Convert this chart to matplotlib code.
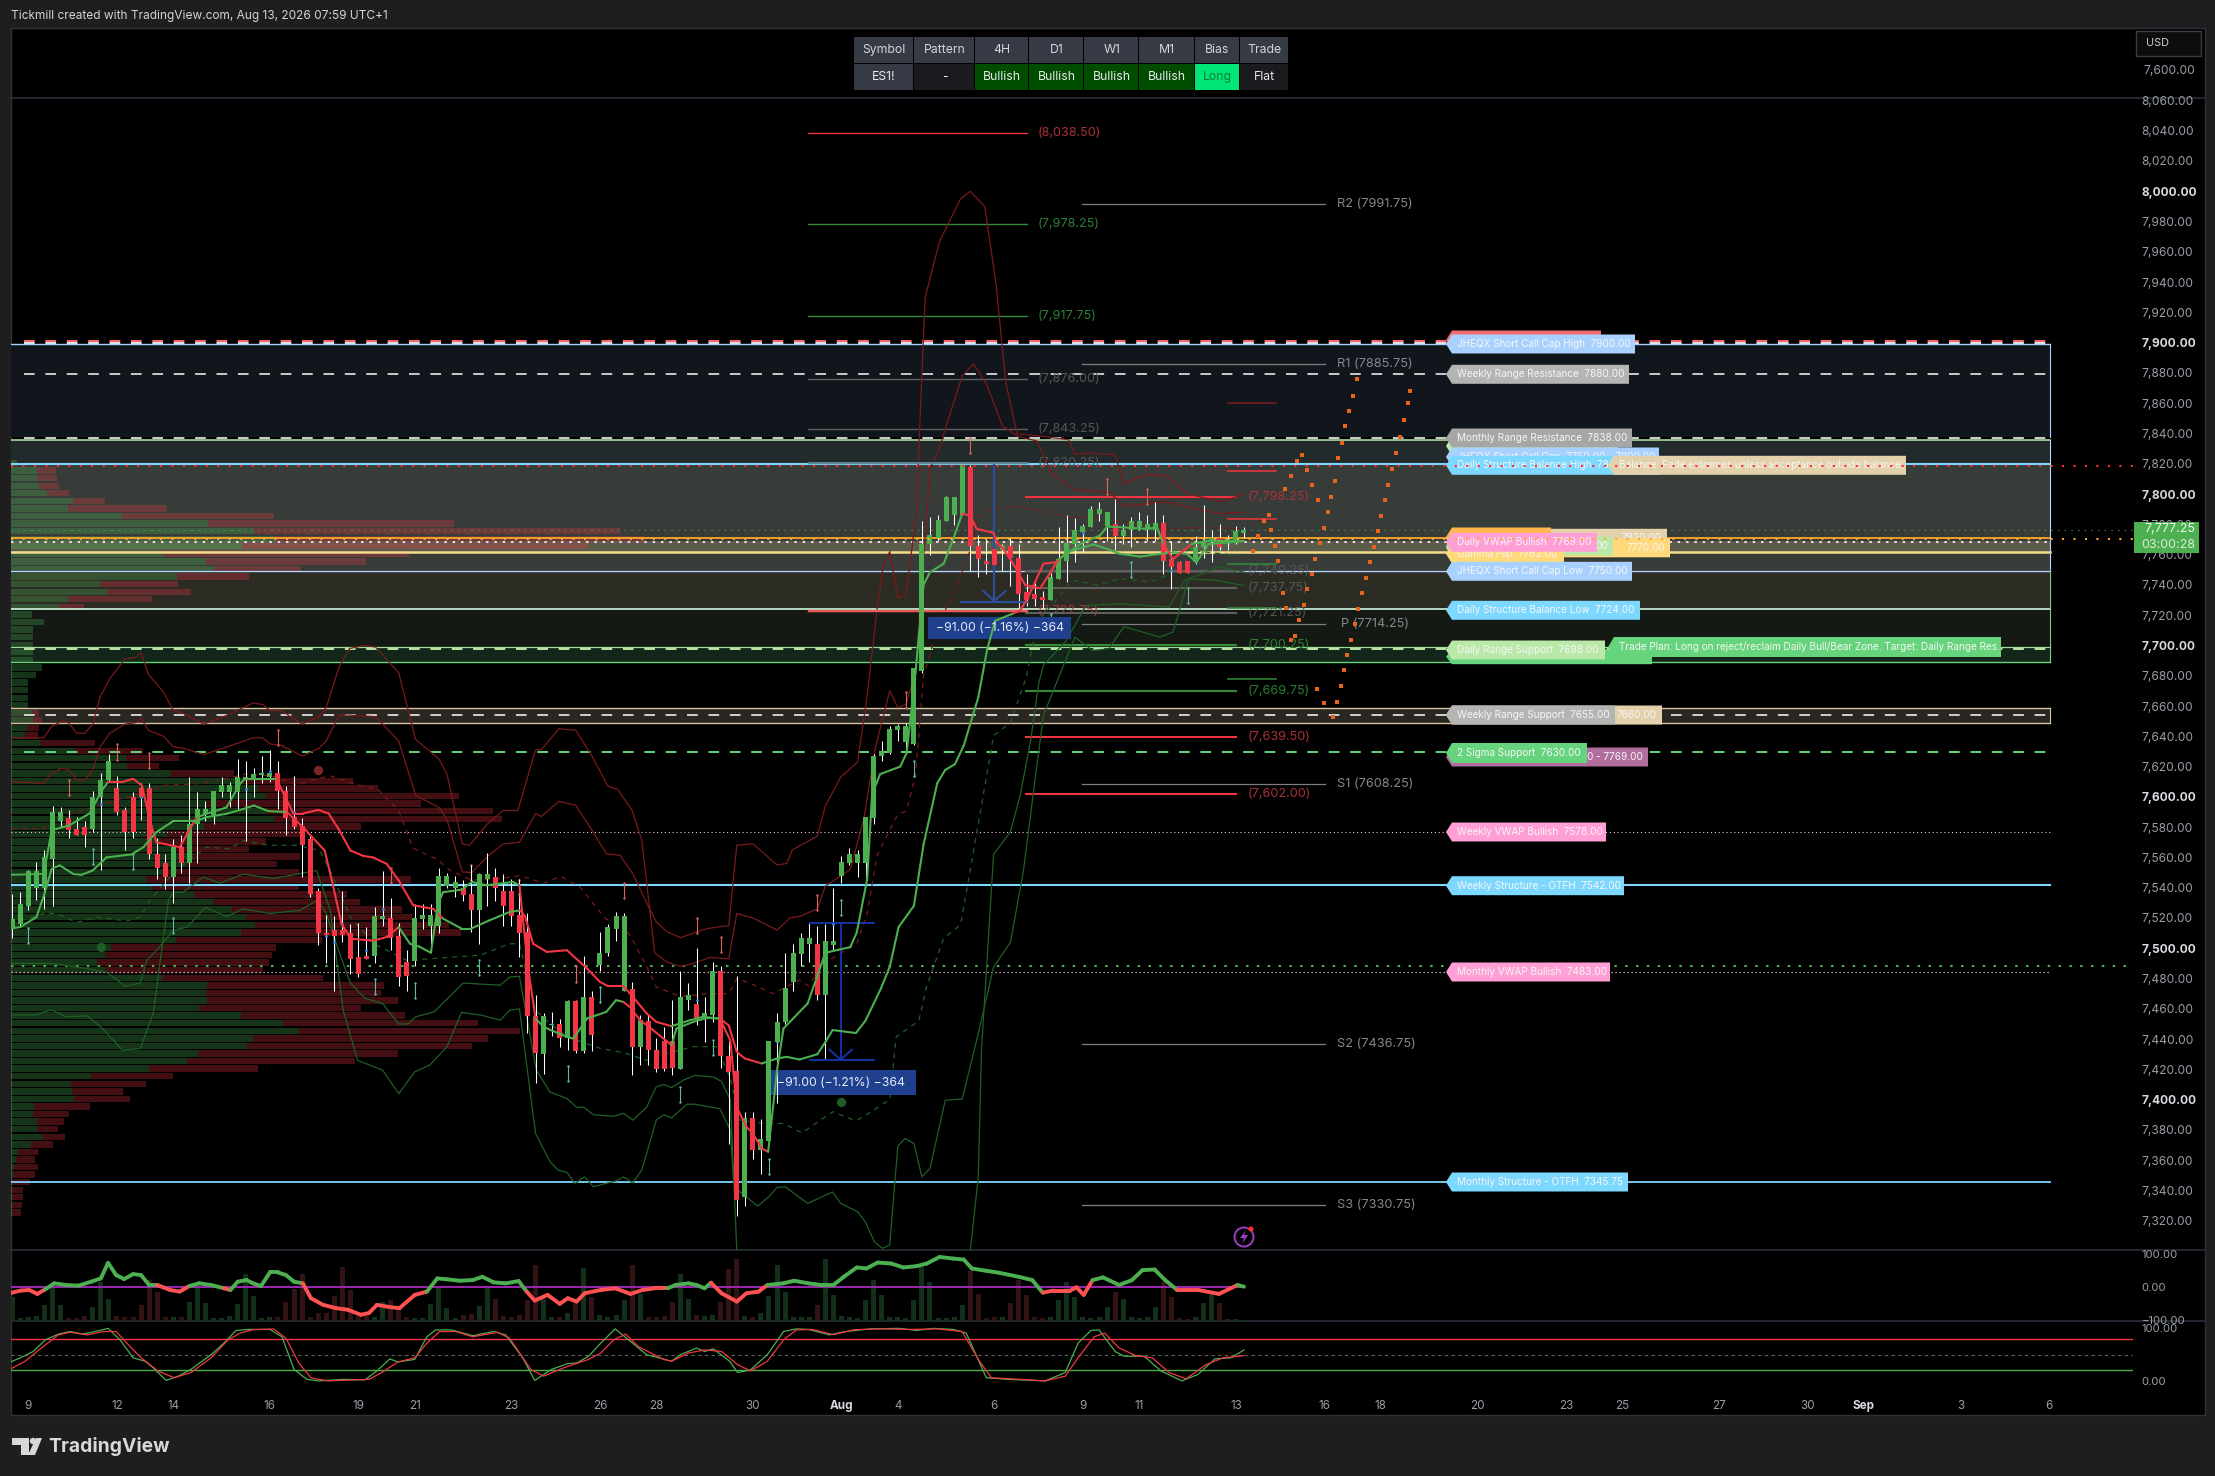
#!/usr/bin/env python3
# ES1! 4H chart, TradingView dark layout with levels, bands and oscillators
import matplotlib
matplotlib.use("Agg")
import matplotlib.pyplot as plt
import numpy as np
from matplotlib.collections import LineCollection
from matplotlib.patches import Circle, Polygon, Rectangle

plt.rcParams["font.family"] = ["Inter", "DejaVu Sans"]

W, H = 2215, 1476

# candles, one per 4H bar
OPENS = [7513,7516,7528,7540,7540,7559,7584,7586,7579,7580,7579,7600,7611,7606,7591,7600,7606,7606,7562,7556,
         7547,7567,7556,7582,7589,7588,7603,7603,7603,7611,7611,7614.5,7613,7616,7604,7587,7581,7572,7538,7510,
         7512,7512,7510,7494,7495,7495,7519,7520,7508,7491,7491.5,7519,7515,7515,7541,7540,7540,7536,7525,7546,
         7547,7538,7538,7522,7511,7455,7430,7449,7450,7441,7465,7432,7468,7489,7497,7513,7472,7473,7435,7452,
         7433,7439,7439,7420,7466,7463,7455,7456,7485,7429,7419,7336,7388,7367,7373,7438,7451,7478,7496,7503,
         7503,7469,7502,7548,7556,7556,7556,7586,7627,7629,7644,7636,7635,7683,7767,7771,7782,7786,7786,7818,
         7766,7755.5,7764,7763,7766,7758,7735,7734,7732,7730,7744,7756,7767,7775,7778.5,7787,7779,7780,7772,7776,
         7778.5,7776.5,7776.5,7781,7757,7755,7755.5,7755,7765,7769,7771,7768.5,7768,7774.5]
HIGHS = [7536,7537,7552,7557,7565,7594,7593,7591,7587,7584,7604,7616,7628,7614,7593,7603,7609,7609,7573,7562,
         7572,7575,7613,7603,7597,7604,7613,7610,7625,7624,7619,7627,7631,7624,7607,7614,7586,7574,7540,7522,
         7521,7538,7516,7517,7514,7527,7551,7533,7517,7499,7529,7529,7529,7553,7550,7548,7545,7555,7550,7563,
         7553,7549,7546,7546,7523,7469,7457,7458,7453,7466,7466,7495,7472,7511,7516,7524,7523,7478,7456,7456,
         7441,7448,7466,7485,7477,7500,7468,7491,7488,7439,7482,7392,7392,7387,7439,7457,7497,7503,7510,7517,
         7515,7516,7540,7561,7566,7565,7587,7628,7637,7647,7648,7649,7685,7782,7785,7786,7799,7798,7819,7819,
         7773,7770,7769,7767,7771,7767,7747,7741,7736,7748,7778,7786,7784.5,7780.5,7792,7795,7788,7797,7780.5,7785,
         7788,7786.5,7795,7786,7769,7756,7756,7772.5,7793,7776.5,7780,7773,7779,7778.5]
LOWS = [7507,7514,7525,7532,7526,7528,7580,7573,7575,7567,7577,7552,7610,7588,7565,7573,7585,7559,7546,7539,
        7530,7550,7543,7556,7584,7582,7600,7593,7592,7571,7600,7609,7610,7592,7575,7579,7547,7534,7502,7490,
        7472,7504,7483,7481,7493,7490,7515,7499,7475,7472,7488,7513,7503,7510,7540,7534,7531,7511,7503,7528,
        7531,7515,7515,7494,7444,7411,7417,7442,7435,7433,7431,7431,7432,7485,7495,7505,7472,7416,7423,7423,
        7418,7419,7416,7420,7459,7449,7438,7451,7421,7371,7323,7330,7361,7351,7373,7398,7450,7472,7488,7491,
        7466,7427,7498,7543,7555,7547,7541,7582,7624,7628,7637,7630,7634,7682,7760,7769,7782,7779.5,7786,7749,
        7745,7747,7733,7749,7739,7725,7726,7726,7724.5,7730,7744,7742,7755,7762,7778.5,7782.5,7769,7763,7767,7765,
        7776,7769,7769,7747,7737,7748,7748,7753.5,7758,7755,7763,7763,7767,7771]
CLOSES = [7519,7529,7551,7551,7560,7590,7590,7578,7575,7575,7600,7611,7624,7590,7577,7577,7600,7562,7553,7547,
          7567,7556,7582,7592,7592,7604,7608,7608,7613,7613,7615,7615.5,7616,7604,7586,7580,7568,7536,7510,7508.5,
          7508,7509,7493,7483,7493,7521,7521,7507,7481,7482,7520,7522,7522,7548,7548,7544,7535,7525,7549,7549,
          7540,7528,7521,7510,7455,7431,7455,7450,7441,7465,7432,7468,7443,7497,7514,7521,7521,7435,7452.5,7433,
          7420,7420,7421,7468,7469,7454,7457,7485,7429,7418,7334,7388,7367,7374,7439,7451,7474,7497,7507,7507,
          7469,7505,7505,7557,7562,7562,7587,7627,7630,7645,7647,7647,7685,7767,7773,7783,7798,7798,7819,7765.5,
          7757,7754,7753,7766,7758,7734,7730,7731,7730,7745,7757,7768,7776,7779,7790,7790,7788,7772,7776,7782.5,
          7782,7780,7781,7756,7751.5,7748,7748,7765,7769,7771,7765,7770,7775.5,7776]

# volume pane heights
VOLUME = [73,8,11,15,48,103,48,8,8,15,41,118,68,15,11,11,48,123,88,11,11,11,58,103,53,8,8,15,51,141,75,8,11,11,58,98,
          143,13,23,25,75,163,95,15,15,11,58,63,45,11,8,8,51,101,38,8,18,21,45,101,68,15,11,18,63,171,68,11,11,23,63,159,
          73,18,11,18,63,171,83,11,11,15,58,141,68,18,15,18,58,158,188,15,11,23,75,171,88,11,11,11,48,188,78,15,11,8,65,125,
          78,11,11,8,65,165,118,8,8,13,48,151,81,8,11,11,55,125,78,11,8,11,65,118,73,11,8,11,41,88,68,11,8,11,41,118,
          73,8,5,11,55,85,55,5,5,3]

# volume profile, widths by 5 point row from the top
PROFILE_TOP = 7820.5
PROFILE_GREEN = [6,26,26,28,36,62,57,111,197,243,264,231,152,195,203,166,89,96,57,48,21,33,22,22,22,22,22,31,25,17,17,17,17,
                 21,22,16,14,29,64,115,116,160,232,247,255,196,256,263,193,156,149,164,182,176,156,135,141,183,202,221,
                 235,244,230,165,100,94,86,94,152,196,195,196,188,230,272,288,242,236,187,176,138,80,60,61,63,23,22,26,26,
                 31,20,7,5,3,2,1,1,1,1,1]
PROFILE_TOTAL = [6,45,46,48,58,94,156,263,443,609,634,578,398,355,290,238,167,180,141,73,21,33,22,22,22,22,22,31,25,17,17,17,17,
                 28,31,28,27,84,132,168,148,223,342,367,448,410,482,491,350,289,255,238,289,266,288,400,288,336,349,391,
                 401,438,450,311,265,261,258,252,312,373,370,387,350,394,467,509,477,461,387,344,247,162,135,112,119,79,58,
                 53,47,54,42,27,24,27,24,19,12,12,11,10]

# thick trend lines
TREND_A_X = [-0.3,3.9,4.9,7,9.6,11.1,11.9,13.8,15,16.1,17.1,17.9,20.8,22.9,24.1,26.6,28.3,28.9,32.8,34.9,36.1,38,39.3,40.5,42,43.6,44.8,46.5,48,49.8,52.3,53.5,55.8,57,59.3,61.8,63.1,63.7,64.7,66.4,68.9,71.4,73,74,75.9,77.1,78.8,80,81.9,84.2,85.8,87.9,89,90,91,93.1,95,96.2,97.8,100,101,101.9,104.8,106,107.9,109,110.1,112,113.2,114.9,115.9,117.1,118.2,120,121.1,122.1,124.4,125.2,126.2,128.1,129.7,131,134.3,136,137.6,140.1,142.6,144.2,145.9,147.1,148.6,150.9,153]
TREND_A_Y = [7548.5,7549,7578,7581,7589,7604,7610,7610,7612,7607.5,7584.4,7570,7566.8,7586.6,7588.8,7593,7608.6,7612,7612,7589,7589,7591.4,7589,7579,7564.6,7561,7560,7555.8,7544.8,7528.4,7526,7519.6,7513,7513,7518.5,7524,7525,7521,7503,7497.6,7498.7,7486.6,7477.8,7475,7475,7467.9,7457,7451.4,7448.5,7452.5,7454.7,7453.6,7449,7431.6,7427.2,7423.9,7427.2,7428.3,7426.5,7430,7438,7446,7444,7452.3,7473.4,7487.7,7514,7528,7568.5,7609,7617.8,7621.6,7634,7665.8,7697.4,7716.3,7721.3,7723,7732,7754,7755,7761.6,7766.7,7763.8,7760.5,7758.7,7760.5,7761.6,7760.5,7755,7767,7768,7769]
TREND_A_RED = [(11.9,22.9),(33,53.5),(63.1,81.9),(87.9,94),(124.4,129.7)]
TREND_B_X = [-0.3,1,3,4,4.9,5.9,7.6,8.6,10,11.7,14.8,16.3,17.9,20,22.9,24.1,26.6,28.7,30,31.8,34.1,36.1,38.8,39.7,40.9,42.1,44.8,46.5,48,49.4,50.6,52,52.9,53.5,55.8,57.1,58.9,62.2,63,64,65,66,68.9,69.7,71.4,73.8,75,75.9,76.7,78,79.6,81.9,82.5,84.6,86.3,87.9,89.2,90,91.2,92,93.1,93.9,95,95.8,98.8,101,104.1,104.9,106.2,106.8,107.8,110.3,111.1,112.2,113.2,114,115.7,116.9,118,119,119.8,121.9,122.3,123.1,124.8,125.8,127.7,130,133,135.1,136,138,140.9,142.2,143,144.2,146.5,148.4,150.9,153]
TREND_B_Y = [7513,7514,7520.6,7536,7552.5,7554.7,7549,7548.5,7551.4,7560,7562,7566.8,7576.7,7584,7584,7586.6,7588.8,7592,7594.3,7590.6,7590,7580,7564.6,7544.8,7516,7506.3,7505,7507.4,7514,7503,7501,7497,7529.5,7537,7538.7,7543.8,7541.6,7543.8,7541.6,7490,7453.6,7448,7441.5,7440.4,7453.6,7458,7465.7,7464.6,7461.3,7452.5,7445.9,7436,7447,7451.4,7454,7453.6,7439,7395,7382,7377.7,7367.8,7365.6,7419.5,7447,7463.5,7497,7500.8,7510.4,7545.8,7601.4,7615,7620,7629,7682,7740,7748.4,7754,7770.6,7787,7785.8,7777,7774.4,7768,7764,7750,7740,7737.8,7757,7768,7772.6,7778.5,7778,7777,7778,7767,7757,7767,7769,7769,7769]
TREND_B_RED = [(35,48.5),(63,65),(75.9,81.9),(87.9,93.9),(118,130),(143,146)]

# thin upper and lower bands
UPPER_A_X = [-0.2,3.9,4.8,6.1,7,8,9,10,10.9,12.1,14,15.3,16,16.9,18.8,20,21.3,23.8,26.7,29.9,31.1,32,33.4,36,38.1,39,40.6,41.9,43.8,45.1,48,50.1,53,54,55.9,56.8,59,61,62.8,65,65.7,67.9,70,72,74,75.2,77,78.2,79.8,81.3,83,84.6,86.7,89,90,92,95,96.6,97.8,100,101,104.1,105.8,107.2,109,110,111,112.2,112.8,114,115.1,116,118,119.4,121,123,125,127.3,129.2,132,136.4,138,140.9,143.4,145.6,150,153]
UPPER_A_Y = [7639,7639,7646,7650,7649,7642,7642,7648,7666,7678,7691,7692,7695,7681,7669,7657,7655,7648,7654,7662,7661,7657,7657,7648,7653,7659,7686,7698,7700,7699,7682,7638,7625,7615,7569,7568,7582,7591,7591,7631,7631,7645,7644,7627,7607,7605,7591,7571.3,7497,7491,7488,7490,7494,7493,7523,7520,7512,7520,7521,7526,7541,7552,7586,7632,7670,7659,7661,7682,7728,7817,7829,7845,7878,7886,7873,7845,7838,7835,7813,7803,7801,7792,7793.5,7795,7792,7787,7788]
UPPER_B_X = [-0.2,3.9,4.8,6.1,7,8,9,10,10.9,12.1,14,15.3,16,16.9,18.8,20,21.3,23.8,26.7,29.9,31.1,32,33.4,36,38.1,39,40.6,41.9,45.1,48,50.1,53,54,55.9,57.1,59.1,61,63,65,65.7,67.9,70,72,73.8,75.5,77.1,78.8,80,81.3,83,84.6,86.3,89,90,92,95,96.2,96.9,100,101,102.9,105,106.2,107.4,108.2,109,110,111,112.4,112.6,113.4,115.2,117.8,119,120.8,122.2,123.4,124.8,128,131.2,132,134.2,137,138,140.9,143.4,146.1,150.2,153]
UPPER_B_Y = [7610,7609,7615,7619,7618,7611,7611,7618,7633,7642,7648,7649,7652,7644,7640,7633,7632,7628,7633,7639,7639,7635,7634,7627,7632,7637,7654,7654,7653,7637,7601,7593,7585,7550.4,7550,7561,7569,7570,7589,7587,7597,7594.4,7578,7562.5,7561.4,7549,7530,7517.4,7511,7507,7510,7513,7515,7568,7569,7555,7556,7565,7574,7594,7613,7623,7667,7723,7753,7762,7731.5,7733,7791,7829,7930,7967,7995,8000,7990,7939,7874,7840,7838,7836,7826.5,7827,7826,7807,7813,7812,7800,7795,7800]
UPPER_MID_X = [0,3.9,5.2,6.7,10.9,15.6,18.8,23.2,25.7,28.9,32.1,35.3,39.4,42.9,45.4,48,49.8,52.7,54.4,57,60.6,63,66,68.2,70.5,72.4,73.8,75.5,77.1,78.8,80,83,86.3,89,90,91.6,94.5,97.8,98.9,100.8,104.9,106.2,107.4,109.9,111.1,112.2,113.2,115.3,116.9,119,120.2,121.5,124,127.7,130.9,135.3,143.1,148.1,153]
UPPER_MID_Y = [7579,7579,7584.5,7588,7594.4,7602,7607.6,7608.7,7611,7615,7614,7608,7614,7608,7605,7591,7566,7559,7551.5,7545,7546,7548,7543,7547.5,7540.5,7528,7519,7518.5,7505,7488,7474.5,7468,7470,7470,7480,7477,7470,7479,7475,7490,7503,7523,7561,7587.5,7591,7614,7680,7717.6,7733,7763,7785,7789.5,7792,7789.5,7785,7784,7777,7778,7777]
LOWER_A_X = [-0.2,4.8,9.3,11.8,14,15.9,16.7,18,20,21.7,24,26.6,28.7,32,35.7,38,39,40.7,42,43.8,46,48,49.2,50.1,52.4,56,60.6,61.8,63,65.1,66.8,68.9,70.1,71,72.2,74.7,75.9,77.1,78.8,80,80.9,81.9,83.4,84.8,87.1,88.1,89.2,89.6,90,119,120,120.4,121.9,124,125.2,126.5,127.5,128.1,130.9,133.4,137.8,143.7,145.6,150,153]
LOWER_A_Y = [7490,7490,7486.6,7484,7475,7477,7492,7499,7512,7514,7527,7521,7526,7523,7525,7532,7523,7496,7477,7467,7463.5,7450,7450,7454.7,7458,7477,7475.6,7481,7481.5,7419.5,7405,7400.8,7395,7395,7390,7389,7391,7386.5,7395,7408.5,7410,7408,7413,7416,7415,7412,7400,7351.3,7300,7300,7349,7433,7562,7577,7601,7637,7675,7687,7703,7726.4,7727.5,7725.3,7743,7752,7748.4]
LOWER_B_X = [-0.2,3,4.8,6.7,9.3,11.2,13.7,15.9,17.5,19.4,20,21.2,23.7,25.8,28.7,32.4,37.8,39.5,41.1,42.9,46,48,50,51.9,54,55.8,58.1,60.6,61.8,63,65,66.8,67.8,68.9,69.9,71.1,72.2,75.1,75.9,77.1,78.2,80,80.9,81.9,83.8,84.8,87.9,89.2,89.6,90.4,92.6,94,95,96,98.8,101.9,102.9,105,106,107.1,108.1,109,110,110.9,112,113,114,115.9,118,120,121.9,124,125.6,127.5,128.1,132,134.2,136.2,138.1,142.5,144.2,146.1,149.5,153]
LOWER_B_Y = [7456,7456,7459.5,7454.7,7455.4,7447,7432.7,7433.8,7457,7531.7,7537,7537,7547,7543,7549,7546,7551.4,7525,7459,7426,7419.5,7404,7418.4,7423,7435,7457.6,7456,7452.5,7459,7460,7377.7,7359,7353.5,7352,7344.7,7349,7342.5,7346.5,7349,7345,7353.5,7386.5,7390,7388,7397,7397,7394,7380,7345,7339,7329.7,7336,7342,7342.5,7331.5,7339,7331.5,7326,7319,7306,7301.8,7304,7369.3,7374.4,7371,7349,7354.6,7399.7,7400.4,7443.7,7487.7,7504,7551,7630,7654,7705.5,7696.7,7697.8,7712.5,7705.5,7708.8,7744,7743,7739.6]
LOWER_MID_X = [1,3.9,5.5,8,10.5,14.2,15.9,17.1,20,24.1,27,28.7,32,35.3,38.2,39.7,42,44.9,49,58.1,61.8,63,65,66.8,68.9,73,76.3,78.8,81.3,84.6,87.5,89.2,90.4,93.3,95.8,98.1,101.9,104.8,106,109,109.8,112.6,113.6,115.7,117.8,119.8,121.9,124,126,127.3,131.7,134.8,137.6,141.4,143.7,144.2,146,153]
LOWER_MID_Y = [7518,7523,7523,7517,7520.6,7518,7520.6,7531.6,7550,7566.8,7565.7,7571,7568,7568,7564.6,7549,7520.6,7503,7492,7495.4,7503,7503,7459,7450,7441.5,7434,7430.5,7426,7430.5,7435,7435,7414,7386.5,7384.3,7384.3,7378,7392,7386,7389.7,7400,7441.5,7452,7475,7506.6,7515.5,7576,7640.5,7649,7679.7,7715,7743,7740,7744,7742,7747,7758,7763,7759]

# projected path dots
DOTS_X = [164.1,164.5,165,165.4,165.8,166.3,166.8,167.2,167.7,168.2,168.7,169.1,169.6,170,170.5,170.9,171.4,171.9,172.4,172.9,173.4,173.6,
          158.9,159.3,159.8,160.4,160.8,161.4,161.8,162.4,162.9,163.4,163.8,164.3,164.7,165.2,165.6,166.1,166.6,167.1,
          154.1,154.8,155.5,156.1,158.1,158.8,159.6,160.2,160.8,161.5,162.2,156.4,156.8,157.2,157.8,158.2,162.1,163]
DOTS_Y = [7652.7,7662.6,7673,7683.5,7693.4,7703.7,7714.3,7724.2,7734.5,7744.7,7755,7765.3,7775.5,7785.8,7796,7806,7816.6,7827,7838,7849,7860,7868,
          7703.7,7706,7716.5,7727,7737,7747,7757.4,7767.5,7777.7,7788,7798.3,7808.5,7823.9,7834,7845,7855,7865,7876,
          7762.7,7772,7782,7786.5,7803.4,7812.2,7822,7826,7816,7806,7796,7776.3,7766,7755.7,7734.8,7724.6,7671.4,7662]

# small I-bar markers
TEAL_X = [2,10,15,20,45,50,58,69,73,83,87,94,103,112,129,139,146]
TEAL_LOW = [7503.7,7555.4,7552.5,7510,7470,7467,7482.6,7412.5,7464.6,7398.6,7429.8,7350.6,7522,7614,7710,7745,7728]
TEAL_HIGH = [7513.6,7565.7,7562.4,7520,7480,7477,7492.5,7422.4,7474.5,7408.5,7439.7,7360.5,7532,7624,7721,7755,7738]
RUST_X = [7,13,17,33,47,57,63,70,76,85,88,100,111,119,136,141]
RUST_LOW = [7601,7624.5,7619,7634,7543,7545,7535.6,7478,7533.5,7510.4,7497.6,7525,7659,7827,7800,7793.5]
RUST_HIGH = [7611,7634.7,7629,7644,7553,7555,7545,7488,7543.4,7520,7507.5,7535,7669,7837,7810,7803.4]
BLUE_X = [11,16,29,31,32,35,39,40,41,44,46,67,85,89,95,102,133,140,144]
BLUE_Y = [7595,7600,7605,7616,7617,7590,7508,7504,7516,7499,7526,7450,7466,7420,7438,7516,7774,7782.5,7750]

# pivots and level labels
FIB_LEVELS = [8038.50,7978.25,7917.75,7876.00,7843.25,7820.25,7722.75]
FIB_KINDS = ["r","g","g","k","k","k","r"]
INNER_LEVELS = [7798.25,7749.25,7737.75,7721.25,7700.25,7669.75,7639.50,7602.00]
INNER_KINDS = ["r","k","k","k","g","g","r","r"]
PIVOT_NAMES = ["R2","R1","P","S1","S2","S3"]
PIVOT_LEVELS = [7991.75,7885.75,7714.25,7608.25,7436.75,7330.75]
SHORT_LEVELS = [7860,7815,7783.6,7754,7724.6,7678]
SHORT_KINDS = ["r","r","r","g","g","g"]

# RSI style line in the volume pane
OSC_X = [-0.3,1,2.1,3.1,4.1,5.2,6.7,8.2,9.8,11,11.9,12.9,13.9,15,16,17,18,19.6,20.8,22,23.2,24.7,26.3,27.1,28,29.1,29.9,30.9,32,33,34,35,36.1,37.1,38.6,40.2,41.7,43.3,44.3,45.3,46.9,48.1,50,51.5,52.8,54.1,55.6,57.2,58.4,59.8,61.3,62.9,63.9,64.9,66.5,68,69,70.1,71.1,73.1,74.9,76.8,78.3,79.8,81.4,82.4,84,85,86,86.8,88.1,90,91.2,92.7,93.8,95.8,97.1,98.9,100.5,102,103.3,104.9,106.1,107.5,109.2,110.7,112.3,113.6,115.2,116.9,118.2,119.2,121,122.6,125,126.7,128,129.3,131.4,132.2,133.1,134.2,135.5,137.5,139.1,140.4,141.9,143.2,144.7,147.3,149.9,152.2,153]
OSC_Y = [-19,-11,-9,-21,-7,11,6,4,16,26,73,36,24,39,36,6,6,-9,-14,3,11,6,-4,-9,16,21,11,3,44,44,36,16,11,-34,-54,-64,-69,-84,-79,-54,-61,-64,-24,-14,26,23,19,21,31,14,11,18,-14,-41,-24,-51,-34,-44,-19,-9,-4,-21,-9,-4,-4,6,11,6,-4,13,-19,-44,-19,-14,6,11,19,11,6,6,31,59,56,74,71,59,63,71,91,86,83,56,49,43,31,21,-17,-11,-11,-1,-24,21,29,6,21,51,53,21,-9,-9,-21,6,1]

# stochastic pane
STOCH_K_X = [-0.3,1,2.6,4.1,5.7,7.2,8.8,10.3,11.9,13.4,15,16.5,17.5,19.1,20.6,22.2,24.7,26.3,27.8,29.4,32,33.5,35,36.6,38.1,41.2,43.8,45.3,46.9,47.9,50,51.5,52.6,54.6,57.2,59.8,61.3,63.4,64.9,67,69,70.1,71.6,73.1,74.9,76.8,78.8,81.9,83,85,86,87.1,89.1,90.1,91.7,93.8,95.8,97.4,98.9,101.5,103.5,106.6,110.2,112.3,114.4,116.9,118.5,121,123.6,128.3,130.8,132.4,134,135,137,138.1,140.6,142.7,145.3,147.3,149.4,151.4,153]
STOCH_K_Y = [35.6,43.8,56,78,89,94,89,94,100,78,44,37.5,25,1,9,22,50,72,96,98,98,84,22,3,0,3,2,19,42,36,41,84,97,97,86,94,87.5,44,1,22,33,34,47,72,99,75,50,37.5,50,62.5,56,61,37.5,16,21,50,94,99,98,87.5,94,99,100,96,100,98,91,6,3,0,16,72,96,97,56,47,47,19,0,12.5,42,44,59]
STOCH_D_X = [-0.3,1.6,3.6,5.7,7.2,9.3,11.3,12.9,14.4,16,18.1,20.1,22.2,24.7,26.8,28.3,29.9,32.5,34,35.6,37.1,39.2,42.8,44.3,45.9,47.9,50,51.5,53.1,55.1,57.2,60.3,61.8,64.4,66,68.5,71.6,73.1,74.7,76.2,77.8,80.9,81.9,84,86,88.1,90.1,91.7,93.8,95.8,97.4,99.4,102,104.6,107.7,111.8,114.9,118,120,121.6,125.2,128.3,130.8,132.4,134.4,135.7,137.5,139.6,141.6,143.7,145.8,148.3,150.4,153]
STOCH_D_Y = [22,37.5,62.5,87.5,92.5,87.5,94,94,69,44,19,6,16,44,78,91,97.5,98.8,81,34,6,0,2,3,16,36,44,72,94,94,84,92.5,81,22,9,25,41,53,78,89,65,41,37.5,53,59,56,31,19,37.5,78,97,98,88,97.5,99,98,99,94,41,6,3,0,9,44,84,91,62.5,48,44,16,4,31,44,48]

# time axis
TIME_TICKS = [2,13,20,32,43,50,62,73,80,92,103,110,122,133,140,152,163,170,182,193,200,212,223,230,242,253]
TIME_LABELS = ["9","12","14","16","19","21","23","26","28","30","Aug","4","6","9","11","13","16","18","20","23","25","27","30","Sep","3","6"]

# table on top of the chart
TABLE_HEAD = ["Symbol","Pattern","4H","D1","W1","M1","Bias","Trade"]
TABLE_ROW = ["ES1!","-","Bullish","Bullish","Bullish","Bullish","Long","Flat"]

BAR_PX = 8.05
X0_PX = 12.3
C_UP, C_DOWN = "#4caf50", "#f23645"
BAND_RED, BAND_GREEN = "#7a1a1a", "#1f5f24"
LEVEL_KINDS = {"r": "#ef3340", "g": "#358a3a", "k": "#5f5f5f"}
TEXT_KINDS = {"r": "#a8323a", "g": "#2f7d34", "k": "#565656"}
X_END = (2050 - X0_PX) / BAR_PX
X_AXIS = (2133 - X0_PX) / BAR_PX


def pane(top, bottom):
    return [11 / W, 1 - bottom / H, (2133 - 11) / W, (bottom - top) / H]


def py(price):
    return 342.7 + (7900 - price) * 1.514


fig = plt.figure(figsize=(W / 100, H / 100), dpi=100, facecolor="#1e1e1e")

bg = fig.add_axes([0, 0, 1, 1], zorder=0)
bg.set_xlim(0, W); bg.set_ylim(H, 0); bg.axis("off")
bg.add_patch(Rectangle((11, 28), 2194, 1387, fc="black", ec="#2f323a", lw=1))
for yy in [98, 1250, 1321]:
    bg.plot([11, 2205], [yy, yy], color="#2a2e39", lw=1.2)

ax = fig.add_axes(pane(98, 1250), zorder=1, facecolor="none")
rsi = fig.add_axes(pane(1250, 1321), zorder=1, facecolor="none")
sto = fig.add_axes(pane(1321, 1393), zorder=1, facecolor="none")
for a in (ax, rsi, sto):
    a.set_xlim(-0.16, X_AXIS)
    for s in a.spines.values():
        s.set_visible(False)
    a.yaxis.tick_right()

ax.set_ylim(7300.7, 8061.6)
ticks = np.arange(7320, 8061, 20)
ax.set_yticks(ticks)
ax.set_yticklabels([f"{t:,.2f}" for t in ticks], fontsize=8.6, color="#9a9da6")
for t, lab in zip(ticks, ax.get_yticklabels()):
    if t % 100 == 0:
        lab.set_fontweight("bold")
        lab.set_color("#d8dae0")
ax.tick_params(axis="y", length=0, pad=6)
ax.set_xticks([])

# zones
for top, bot, col in [(7899, 7838, "#11151c"), (7836, 7820, "#232a2b"), (7820, 7769, "#373c38"),
                      (7769, 7762, "#5a5c4c"), (7762, 7750, "#373c38"), (7750, 7724, "#2c2c24"),
                      (7724, 7699, "#141914"), (7699, 7689, "#12261a"), (7659, 7649, "#2a2621")]:
    ax.fill_between([-0.16, X_END], bot, top, color=col, lw=0, zorder=1)

# volume profile
rows = PROFILE_TOP - 5 * np.arange(len(PROFILE_GREEN))
green_w = np.array(PROFILE_GREEN) / BAR_PX
red_w = (np.array(PROFILE_TOTAL) - np.array(PROFILE_GREEN)) / BAR_PX
ax.barh(rows, green_w, height=4.2, left=-0.16, color=C_UP, alpha=0.3, lw=0, zorder=2)
ax.barh(rows, red_w, height=4.2, left=-0.16 + green_w, color=C_DOWN, alpha=0.28, lw=0, zorder=2)

# horizontal levels
solid = [(7899, "#a8d0ff", 1.0), (7836, "#b9e8a8", 1.1), (7820, "#7dd8ff", 1.5), (7770.7, "#ffa726", 1.3),
         (7761.5, "#f6dc8a", 1.8), (7749.5, "#b5d5ff", 1.0), (7723.8, "#c2e8d0", 1.3), (7699, "#9fdc9a", 0.9),
         (7689, "#66d47c", 1.0), (7659, "#d6c4a0", 1.0), (7649, "#d6c4a0", 1.0),
         (7542, "#7dd8ff", 1.5), (7345.5, "#7dd8ff", 1.3)]
for price, col, lw in solid:
    ax.plot([-0.16, X_END], [price, price], color=col, lw=lw, zorder=3)
ax.plot([X_END, X_END], [7838, 7899], color="#a8d0ff", lw=0.8, zorder=3)
ax.plot([X_END, X_END], [7750, 7836], color="#b5d5ff", lw=0.8, zorder=3)
ax.plot([X_END, X_END], [7689, 7750], color="#86c98c", lw=0.8, zorder=3)
ax.plot([X_END, X_END], [7649, 7659], color="#d6c4a0", lw=0.8, zorder=3)
dashed = [(7900.8, "#ff6b6b"), (7899.6, "#dfe8ee"), (7879.3, "#c9c9c9"), (7837.2, "#cfcfcf"), (7697.5, "#b9e8a8"),
          (7654, "#d0d0d0"), (7629.5, "#66d47c")]
for price, col in dashed:
    ax.plot([1.5, X_END], [price, price], color=col, lw=1.4, ls=(0, (5.5, 5.5)), zorder=3)
ax.plot([-0.16, X_AXIS], [7776, 7776], color="#4caf50", lw=0.8, ls=(0, (1, 5)), zorder=3)
ax.plot([-0.16, X_END], [7768.6, 7768.6], color="#f5d3e2", lw=1.5, ls=(0, (1.2, 2.8)), zorder=3)
ax.plot([-0.16, X_END], [7577, 7577], color="#f5c8d8", lw=0.8, ls=(0, (1, 2.5)), zorder=3)
ax.plot([-0.16, X_END], [7484, 7484], color="#f5c8d8", lw=0.9, ls=(0, (1, 2.2)), zorder=3)
ax.plot([-0.16, X_AXIS], [7488, 7488], color="#4caf50", lw=1.5, ls=(0, (1.2, 4)), zorder=3)

# fib, inner and pivot segments
for price, kind in zip(FIB_LEVELS, FIB_KINDS):
    ax.plot([98.8, 126], [price, price], color=LEVEL_KINDS[kind], lw=1.0, zorder=3)
    ax.text(127.4, price, f"({price:,.2f})", color=TEXT_KINDS[kind], fontsize=9.1, va="center", zorder=3)
for price, kind in zip(INNER_LEVELS, INNER_KINDS):
    ax.plot([125.9, 152], [price, price], color=LEVEL_KINDS[kind], lw=1.5, zorder=3)
    ax.text(153.4, price, f"({price:,.2f})", color=TEXT_KINDS[kind], fontsize=9.1, va="center", zorder=3)
for name, price in zip(PIVOT_NAMES, PIVOT_LEVELS):
    ax.plot([132.9, 163.1], [price, price], color="#7e7e7e", lw=0.9, zorder=3)
    ax.text(165 if name == "P" else 164.6, price, f"{name} ({price:.2f})", color="#85878c", fontsize=9.2, va="center", zorder=3)
for price, kind in zip(SHORT_LEVELS, SHORT_KINDS):
    ax.plot([151, 157], [price, price], color=LEVEL_KINDS[kind] if price != 7860 else "#7a2020", lw=1.1, zorder=3)

# thin bands
for xs, ys, col in [(UPPER_A_X, UPPER_A_Y, BAND_RED), (UPPER_B_X, UPPER_B_Y, BAND_RED),
                    (LOWER_A_X, LOWER_A_Y, BAND_GREEN), (LOWER_B_X, LOWER_B_Y, BAND_GREEN)]:
    ax.plot(xs, ys, color=col, lw=0.9, zorder=4)
ax.plot(UPPER_MID_X, UPPER_MID_Y, color=BAND_RED, lw=0.9, ls=(0, (4, 4)), zorder=4)
ax.plot(LOWER_MID_X, LOWER_MID_Y, color=BAND_GREEN, lw=0.9, ls=(0, (4, 4)), zorder=4)

# markers
ax.vlines(TEAL_X, TEAL_LOW, TEAL_HIGH, color="#62b8a8", lw=0.8, zorder=5)
ax.scatter(TEAL_X + TEAL_X, TEAL_LOW + TEAL_HIGH, s=3, color="#62b8a8", lw=0, zorder=5)
ax.vlines(RUST_X, RUST_LOW, RUST_HIGH, color="#d9655a", lw=0.8, zorder=5)
ax.scatter(RUST_X + RUST_X, RUST_LOW + RUST_HIGH, s=3, color="#d9655a", lw=0, zorder=5)
ax.scatter(BLUE_X, BLUE_Y, s=4, color="#3d8bf0", lw=0, zorder=7)
ax.scatter([38], [7618], s=45, color="#7a2626", lw=0, zorder=5)
ax.scatter([11, 103], [7501, 7398.4], s=45, color="#1f5c28", lw=0, zorder=5)

# candles
x = np.arange(len(OPENS))
opens, highs, lows, closes = map(np.array, (OPENS, HIGHS, LOWS, CLOSES))
up = closes >= opens
ax.vlines(x, lows, highs, color="white", lw=0.75, zorder=6)
ax.bar(x, np.maximum(np.abs(closes - opens), 1.0), bottom=np.minimum(opens, closes), width=0.62,
       color=np.where(up, C_UP, C_DOWN), lw=0, zorder=7)


def trend(axis, xs, ys, red_spans, lw, zorder):
    xs, ys = np.array(xs), np.array(ys)
    pts = np.column_stack([xs, ys])
    segs = np.stack([pts[:-1], pts[1:]], axis=1)
    mids = (xs[:-1] + xs[1:]) / 2
    cols = [C_DOWN if any(a <= m <= b for a, b in red_spans) else C_UP for m in mids]
    axis.add_collection(LineCollection(segs, colors=cols, linewidths=lw, capstyle="round", zorder=zorder))


trend(ax, TREND_A_X, TREND_A_Y, TREND_A_RED, 1.5, 8)
trend(ax, TREND_B_X, TREND_B_Y, TREND_B_RED, 1.5, 8)

ax.scatter(DOTS_X, DOTS_Y, s=9, marker="s", color="#e8641a", lw=0, zorder=8)

# measure tools
ax.plot([99, 126.2], [7820.3, 7820.3], color="#5f8fa8", lw=1.2, zorder=6)
ax.plot([99, 126], [7722.5, 7722.5], color="#e85a5a", lw=1.6, zorder=6)
ax.plot([122, 122], [7729, 7819], color="#2c4f9e", lw=1.5, zorder=6)
ax.plot([117.9, 126.2], [7729, 7729], color="#2c4f9e", lw=1.5, zorder=6)
ax.plot([120.6, 122, 123.4], [7736, 7729.5, 7736], color="#2c4f9e", lw=1.5, zorder=6)
ax.plot([102.9, 102.9], [7426, 7516.7], color="#14309c", lw=1.5, zorder=6)
ax.plot([99.1, 107], [7516.7, 7516.7], color="#14309c", lw=1.5, zorder=6)
ax.plot([99.1, 107], [7426, 7426], color="#14309c", lw=1.5, zorder=6)
ax.plot([101.5, 102.9, 104.3], [7433, 7426.5, 7433], color="#14309c", lw=1.5, zorder=6)
ax.fill_between([113.7, 131.5], 7704, 7719, color="#1f3f8f", lw=0, zorder=5.5)
ax.text(122.7, 7711.5, "\u221291.00 (\u22121.16%) \u2212364", color="#e8ecf5", fontsize=8.8, ha="center", va="center", zorder=9)
ax.fill_between([93.7, 112.2], 7403, 7419.5, color="#1f3f8f", lw=0, zorder=5.5)
ax.text(103, 7411, "\u221291.00 (\u22121.21%) \u2212364", color="#e8ecf5", fontsize=8.8, ha="center", va="center", zorder=9)

# volume and oscillator pane
rsi.set_ylim(-103, 112)
vx = np.arange(len(VOLUME))
n = min(len(VOLUME), len(opens))
rsi.bar(vx[:n], np.array(VOLUME[:n]), bottom=-103, width=0.62,
        color=np.where(up[:n], "#12301a", "#331414"), lw=0, zorder=1)
rsi.plot([-0.16, 153], [0, 0], color="#9c27b0", lw=1.4, zorder=2)
osc_x, osc_y = np.array(OSC_X), np.array(OSC_Y)
osc_pts = np.column_stack([osc_x, osc_y])
osc_segs = np.stack([osc_pts[:-1], osc_pts[1:]], axis=1)
osc_cols = [C_UP if (a + b) / 2 >= 0 else "#ff5252" for a, b in zip(osc_y[:-1], osc_y[1:])]
rsi.add_collection(LineCollection(osc_segs, colors=osc_cols, linewidths=2.8, capstyle="round", zorder=3))
rsi.set_yticks([100, 0, -100])
rsi.set_yticklabels(["100.00", "0.00", "\u2212100.00"], fontsize=8.2, color="#9a9da6")
rsi.tick_params(axis="y", length=0, pad=6)
rsi.set_xticks([])

# stochastic pane
sto.set_ylim(-23, 114)
sto.axhline(80, color="#f23645", lw=1.0, zorder=1)
sto.axhline(50, color="#5f5f5f", lw=0.8, ls=(0, (3, 3)), zorder=1)
sto.axhline(20, color="#4caf50", lw=1.0, zorder=1)
sto.plot(STOCH_K_X, STOCH_K_Y, color="#4caf50", lw=0.9, zorder=2)
sto.plot(STOCH_D_X, STOCH_D_Y, color="#f23645", lw=0.9, zorder=3)
sto.set_yticks([100, 0])
sto.set_yticklabels(["100.00", "0.00"], fontsize=8.2, color="#9a9da6")
sto.tick_params(axis="y", length=0, pad=6)
sto.set_xticks(TIME_TICKS)
sto.set_xticklabels(TIME_LABELS, fontsize=8.4, color="#9a9da6")
for lab in sto.get_xticklabels():
    if lab.get_text() in ("Aug", "Sep"):
        lab.set_fontweight("bold")
        lab.set_color("#d8dae0")
sto.tick_params(axis="x", length=0, pad=5)

# overlay in pixels: tags, table, header and footer
ov = fig.add_axes([0, 0, 1, 1], zorder=5, facecolor="none")
ov.set_xlim(0, W); ov.set_ylim(H, 0); ov.axis("off")
tag_z = [10]


def tag(x1, yc, col, text="", right=None, h=19, x0=1446, tc="#f6f6f6"):
    # each tag stacks over the earlier ones, its text included
    tag_z[0] += 1
    z = tag_z[0]
    ov.add_patch(Polygon([(x0, yc), (x0 + 6, yc - h / 2), (x1, yc - h / 2), (x1, yc + h / 2), (x0 + 6, yc + h / 2)],
                         closed=True, fc=col, ec="none", zorder=z))
    if text:
        ov.text(x0 + 11, yc, text, color=tc, fontsize=7.2, va="center", ha="left", zorder=z + 0.5)
    if right:
        ov.text(x1 - 5, yc, right, color=tc, fontsize=7.2, va="center", ha="right", zorder=z + 0.5)


SKY, PALE, GREY, TAN, PINK, GRN, YEL = "#7dd8ff", "#b9e8a8", "#b4b4b4", "#e3d1ab", "#ff9fd6", "#66d47c", "#ffd97a"
tag(1601, 340, "#f26a6a")
tag(1635, 344, "#a9d1ff", "JHEQX Short Call Cap High  7900.00")
tag(1629, 374.3, GREY, "Weekly Range Resistance  7880.00")
tag(1618, 446, PALE)
tag(1632, 438, "#a6a6a6", "Monthly Range Resistance  7838.00")
tag(1659, 457, "#a9d1ff", "JHEQX Short Call Cap  7750.00 - 7900.00")
tag(1660, 465.3, SKY, "Daily Structure Balance High  7820.00")
tag(1906, 465.3, TAN, "Balance: Fade extremes unless acceptance outside balance.", x0=1608)
tag(1667, 538.3, TAN, right="7820.00")
tag(1551, 537, "#ffb74d")
tag(1670, 547.8, YEL, right="7770.00")
tag(1613, 546, PALE, right="00")
tag(1564, 554, YEL, "Gamma Flip  7762.00")
tag(1597, 542.3, PINK, "Daily VWAP Bullish  7769.00")
tag(1632, 571.3, "#a9d1ff", "JHEQX Short Call Cap Low  7750.00")
tag(1640, 610.3, SKY, "Daily Structure Balance Low  7724.00")
tag(1652, 656.7, GRN, h=15)
tag(1605, 650, PALE, "Daily Range Support  7698.00")
tag(2001, 647, GRN, "Trade Plan: Long on reject/reclaim Daily Bull/Bear Zone. Target: Daily Range Res.", x0=1608, h=20)
tag(1662, 715, TAN, right="7660.00")
tag(1615, 715, GREY, "Weekly Range Support  7655.00")
tag(1648, 757, "#b06d9e", right="0 - 7769.00")
tag(1587, 753, GRN, "2 Sigma Support  7630.00", h=20)
tag(1606, 832, PINK, "Weekly VWAP Bullish  7578.00")
tag(1624, 885.7, SKY, "Weekly Structure - OTFH  7542.00")
tag(1610, 972, PINK, "Monthly VWAP Bullish  7483.00")
tag(1628, 1182, SKY, "Monthly Structure - OTFH  7345.75")

# dotted lines that run over the tags
ov.plot([11, 2133], [py(7818.5), py(7818.5)], color="#ff2d2d", lw=1.5, ls=(0, (1, 4.5)), zorder=60)
ov.plot([11, 2133], [py(7770.5), py(7770.5)], color="#ffa726", lw=1.5, ls=(0, (1, 4.5)), zorder=60)

# table
cols = [853.6, 914.3, 975, 1029.5, 1084, 1139.3, 1194.6, 1240, 1289]
for i, (head, val) in enumerate(zip(TABLE_HEAD, TABLE_ROW)):
    x0, x1 = cols[i], cols[i + 1]
    ov.add_patch(Rectangle((x0, 37), x1 - x0 - 1, 26, fc="#363a45", ec="none"))
    ov.text((x0 + x1) / 2, 50, head, color="#d1d4dc", fontsize=8.8, ha="center", va="center")
    fill = {"ES1!": "#363a45", "Bullish": "#004d00", "Long": "#00e676"}.get(val, "#1a1b1f")
    ov.add_patch(Rectangle((x0, 64), x1 - x0 - 1, 26, fc=fill, ec="none"))
    ov.text((x0 + x1) / 2, 77, val, color="#0c7a3a" if val == "Long" else "#e6e8ee", fontsize=8.8, ha="center", va="center")

# header, USD box, current price box
ov.text(11, 16, "Tickmill created with TradingView.com, Aug 13, 2026 07:59 UTC+1", color="#d1d4dc", fontsize=8.55, va="center")
ov.add_patch(Rectangle((2136, 31), 65, 25, fc="#0d0d0d", ec="#3a3d44", lw=1))
ov.text(2146, 43.5, "USD", color="#c9ccd3", fontsize=7.8, va="center")
ov.text(2195, 71, "7,600.00", color="#9a9da6", fontsize=8.6, va="center", ha="right")
ov.add_patch(Rectangle((2134, 522), 65, 31, fc=C_UP, ec="none", zorder=70))
ov.text(2195, 529.5, "7,777.25", color="#f0f5ee", fontsize=9, va="center", ha="right", zorder=71)
ov.text(2195, 544.5, "03:00:28", color="#dcebd9", fontsize=9, va="center", ha="right", zorder=71)

# bolt icon
ov.add_patch(Circle((1244, 1237), 9.5, fc="none", ec="#9c3fc4", lw=1.4))
ov.add_patch(Polygon([(1246, 1230), (1240, 1238), (1244, 1238), (1242, 1244), (1248, 1235), (1244, 1235)], closed=True, fc="#9c3fc4", ec="none"))
ov.add_patch(Circle((1251, 1229), 2.6, fc="#f23030", ec="none"))

# footer logo
ov.add_patch(Polygon([(12, 1438), (29, 1438), (29, 1455), (21, 1455), (21, 1445), (12, 1445)], closed=True, fc="#d8d8d8", ec="none"))
ov.add_patch(Circle((33, 1441), 3.2, fc="#d8d8d8", ec="none"))
ov.add_patch(Polygon([(36, 1438), (42, 1438), (35, 1455), (28, 1455)], closed=True, fc="#d8d8d8", ec="none"))
ov.text(48, 1446, "TradingView", color="#d8d8d8", fontsize=13.9, fontweight="bold", va="center")

fig.savefig("out.png", dpi=100, facecolor=fig.get_facecolor())
plt.close(fig)
